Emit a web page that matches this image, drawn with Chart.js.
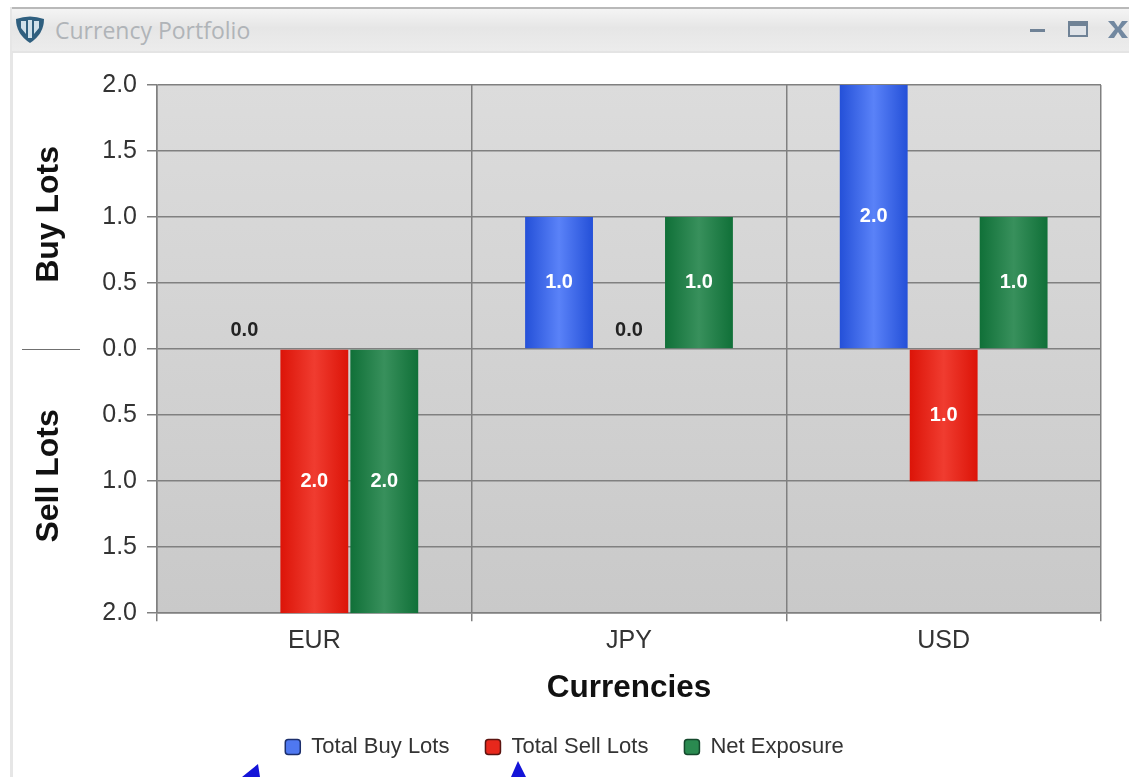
<!DOCTYPE html>
<html>
<head>
<meta charset="utf-8">
<title>Currency Portfolio</title>
<script src="https://cdn.jsdelivr.net/npm/chart.js@4/dist/chart.umd.min.js"></script>
<style>
  html, body { margin: 0; padding: 0; background: #fff; width: 1129px; height: 777px; overflow: hidden; }
  #titlebar { position: absolute; left: 12px; top: 7px; width: 1117px; height: 46px; box-sizing: border-box;
    border-top: 2px solid #b9b9b9; border-bottom: 2px solid #e4e4e4;
    background: linear-gradient(#f4f4f4, #e6e6e6 45%, #ececec); }
  #leftborder { position: absolute; left: 10px; top: 7px; width: 3px; height: 770px; background: #e6e6e6; }
  #title { position: absolute; left: 55px; top: 14px; font: 23px "Open Sans", sans-serif; color: #b0b4b8; }
  #icon { position: absolute; left: 15px; top: 16px; }
  #buttons { position: absolute; left: 1030px; top: 20px; }
  #arrows { position: absolute; left: 0; top: 755px; }
  canvas { position: absolute; left: 0; top: 0; }
</style>
</head>
<body>
<div id="leftborder"></div>
<div id="titlebar"></div>
<svg id="icon" width="30" height="28" viewBox="0 0 30 28">
  <path d="M1 3 Q15 -2 29 3 Q29 18 15 27 Q1 18 1 3 Z" fill="#2f5f7f"/>
  <path d="M6 5 L11 5 L11 18 L6 12 Z M13 4 L17 4 L17 22 L13 22 Z M19 5 L24 5 L24 12 L19 18 Z" fill="#cfe0ea"/>
</svg>
<div id="title">Currency Portfolio</div>
<svg id="buttons" width="99" height="20" viewBox="0 0 99 20">
  <rect x="0" y="9" width="15" height="3" fill="#6f8296"/>
  <rect x="39" y="2" width="18" height="14" fill="#dfe3e8" stroke="#6f8296" stroke-width="2"/>
  <rect x="39" y="2" width="18" height="4" fill="#6f8296"/>
  <path d="M78 1 L84 1 L88 7 L92 1 L98 1 L91 9 L98 18 L92 18 L88 12 L84 18 L78 18 L85 9 Z" fill="#7288a0"/>
</svg>
<svg id="arrows" width="560" height="22" viewBox="0 0 560 22">
  <path d="M258 9 L260 22 L242 22 Z M518 6 L526 22 L511 22 Z" fill="#1414d8"/>
</svg>
<canvas id="chart" width="1129" height="777"></canvas>
<script>
(function () {
  'use strict';

  var CURRENCIES = ['EUR', 'JPY', 'USD'];
  var BUY_LOTS = [0, 1, 2];
  var SELL_LOTS = [-2, 0, -1];
  var NET_EXPOSURE = [-2, 1, 1];
  var SERIES_NAMES = ['Total Buy Lots', 'Total Sell Lots', 'Net Exposure'];

  var FONT = '"Liberation Sans", Arial, sans-serif';

  // edge colour, centre colour for the cylinder look on each bar
  var SHADES = [
    ['#2450d8', '#5a82f8'],
    ['#dc1408', '#f03c30'],
    ['#107038', '#38905c']
  ];
  var LEGEND_FILL = ['#4f78f0', '#e8281c', '#2a8a50'];
  var LEGEND_EDGE = ['#1c2f6c', '#5c1410', '#14482c'];

  var plotBackground = {
    id: 'plotBackground',
    beforeDraw: function (chart) {
      var a = chart.chartArea, ctx = chart.ctx;
      var g = ctx.createLinearGradient(0, a.top, 0, a.bottom);
      g.addColorStop(0, '#dcdcdc');
      g.addColorStop(1, '#c9c9c9');
      ctx.save();
      ctx.fillStyle = g;
      ctx.fillRect(a.left, a.top, a.right - a.left, a.bottom - a.top);
      ctx.restore();
    }
  };

  // horizontal gradient per bar, done here since el.x is known by now
  var barShading = {
    id: 'barShading',
    beforeDatasetDraw: function (chart, args) {
      var ctx = chart.ctx;
      var shade = SHADES[args.index];
      args.meta.data.forEach(function (el) {
        var half = el.width / 2;
        var g = ctx.createLinearGradient(el.x - half, 0, el.x + half, 0);
        g.addColorStop(0, shade[0]);
        g.addColorStop(0.5, shade[1]);
        g.addColorStop(1, shade[0]);
        el.options = Object.assign({}, el.options, { backgroundColor: g });
      });
    }
  };

  var valueLabels = {
    id: 'valueLabels',
    afterDatasetsDraw: function (chart) {
      var ctx = chart.ctx;
      ctx.save();
      ctx.font = 'bold 20px ' + FONT;
      ctx.textAlign = 'center';
      ctx.textBaseline = 'middle';
      chart.data.datasets.forEach(function (ds, i) {
        chart.getDatasetMeta(i).data.forEach(function (el, j) {
          var v = ds.data[j];
          if (v === 0) {
            ctx.fillStyle = '#222';
            ctx.fillText('0.0', el.x, el.base - 19);
          } else {
            ctx.fillStyle = '#fff';
            ctx.fillText(Math.abs(v).toFixed(1), el.x, (el.y + el.base) / 2);
          }
        });
      });
      ctx.restore();
    }
  };

  // the two y titles and the little divider between them
  var sideTitles = {
    id: 'sideTitles',
    afterDraw: function (chart) {
      var ctx = chart.ctx, y = chart.scales.y;
      var zero = Math.round(y.getPixelForValue(0));
      ctx.save();
      ctx.strokeStyle = '#707070';
      ctx.lineWidth = 1;
      ctx.beginPath();
      ctx.moveTo(22, zero + 0.5);
      ctx.lineTo(80, zero + 0.5);
      ctx.stroke();
      ctx.fillStyle = '#111';
      ctx.font = 'bold 32px ' + FONT;
      ctx.textAlign = 'center';
      ctx.textBaseline = 'middle';
      [['Buy Lots', y.getPixelForValue(1.02)], ['Sell Lots', y.getPixelForValue(-0.96)]].forEach(function (t) {
        ctx.save();
        ctx.translate(49, t[1]);
        ctx.rotate(-Math.PI / 2);
        ctx.fillText(t[0], 0, 0);
        ctx.restore();
      });
      ctx.restore();
    }
  };

  function makeDataset(i, values) {
    return {
      label: SERIES_NAMES[i],
      data: values,
      backgroundColor: LEGEND_FILL[i],
      borderWidth: 0,
      barPercentage: 0.97,
      categoryPercentage: 0.667
    };
  }

  new Chart(document.getElementById('chart').getContext('2d'), {
    type: 'bar',
    data: {
      labels: CURRENCIES,
      datasets: [
        makeDataset(0, BUY_LOTS),
        makeDataset(1, SELL_LOTS),
        makeDataset(2, NET_EXPOSURE)
      ]
    },
    plugins: [plotBackground, barShading, valueLabels, sideTitles],
    options: {
      responsive: false,
      animation: false,
      // equal side padding keeps the legend centred on the window
      layout: { padding: { left: 28, right: 28, top: 85, bottom: 9 } },
      plugins: {
        title: { display: false },
        tooltip: { enabled: false },
        legend: {
          position: 'bottom',
          labels: {
            font: { family: FONT, size: 22 },
            color: '#333',
            boxWidth: 15,
            boxHeight: 15,
            padding: 36,
            useBorderRadius: true,
            borderRadius: 3,
            generateLabels: function (chart) {
              return Chart.defaults.plugins.legend.labels.generateLabels(chart).map(function (item, i) {
                item.strokeStyle = LEGEND_EDGE[i];
                item.lineWidth = 1.5;
                return item;
              });
            }
          }
        }
      },
      scales: {
        x: {
          grid: { color: '#808080', lineWidth: 1.5, tickLength: 8, offset: true },
          border: { color: '#808080', width: 1.5 },
          ticks: { color: '#333', font: { family: FONT, size: 25 }, padding: 5 },
          title: {
            display: true,
            text: 'Currencies',
            color: '#111',
            font: { family: FONT, size: 31.5, weight: 'bold' },
            padding: { top: 8, bottom: -7 }
          }
        },
        y: {
          min: -2,
          max: 2,
          afterFit: function (scale) { scale.width = 129; },
          grid: { color: '#808080', lineWidth: 1.5, tickLength: 10 },
          border: { color: '#808080', width: 1.5 },
          ticks: {
            stepSize: 0.5,
            color: '#333',
            font: { family: FONT, size: 25 },
            padding: 10,
            callback: function (v) { return Math.abs(v).toFixed(1); }
          }
        }
      }
    }
  });
})();
</script>
</body>
</html>
